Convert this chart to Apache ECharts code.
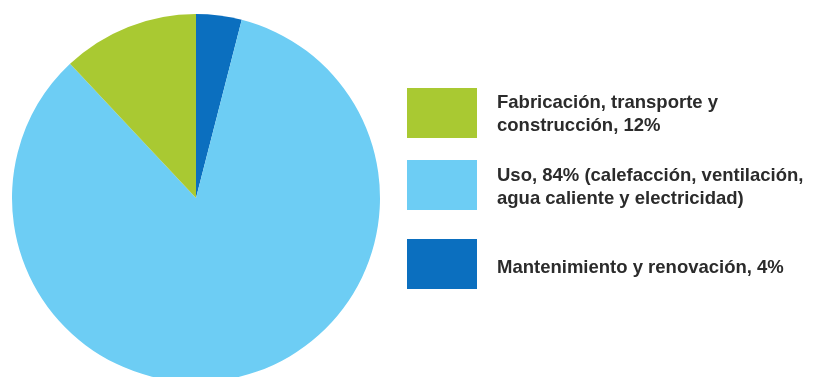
<!DOCTYPE html>
<html>
<head>
<meta charset="utf-8">
<script src="https://cdn.jsdelivr.net/npm/echarts@6/dist/echarts.min.js"></script>
<style>html,body{margin:0;padding:0;background:#fff;}#c{width:820px;height:377px;}</style>
</head>
<body>
<div id="c"></div>
<script>
const categories = ['Mantenimiento y renovación, 4%', 'Uso, 84% (calefacción, ventilación,\nagua caliente y electricidad)', 'Fabricación, transporte y\nconstrucción, 12%'];
const values = [4, 84, 12];
const colors = ['#0b6fbf', '#6dcdf4', '#a9c932'];
const legendOrder = [2, 1, 0];
const legendTops = [88, 160, 239];
const textShift = [2, 4, 7];

const font = {
  fontFamily: 'Liberation Sans, Arial, sans-serif',
  fontSize: 18.5,
  fontWeight: 'bold',
  color: '#2b2b2b',
  lineHeight: 23
};

const chart = echarts.init(document.getElementById('c'));
const legends = legendOrder.map((idx, i) => ({
  data: [categories[idx]],
  left: 407,
  top: legendTops[i],
  padding: 0,
  itemWidth: 70,
  itemHeight: 50,
  icon: 'rect',
  selectedMode: false,
  formatter: name => name.split('\n').map(l => '{t|' + l + '}').join('\n'),
  textStyle: Object.assign({}, font, {
    padding: [textShift[i], 0, 0, 15],
    rich: { t: Object.assign({}, font) }
  })
}));
chart.setOption({
  animation: false,
  backgroundColor: '#ffffff',
  legend: legends,
  series: [{
    type: 'pie',
    center: [196, 198],
    radius: 184,
    startAngle: 90,
    clockwise: true,
    label: { show: false },
    labelLine: { show: false },
    emphasis: { disabled: true },
    itemStyle: { borderWidth: 0 },
    data: categories.map((n, i) => ({ name: n, value: values[i], itemStyle: { color: colors[i] } }))
  }]
});
</script>
</body>
</html>
